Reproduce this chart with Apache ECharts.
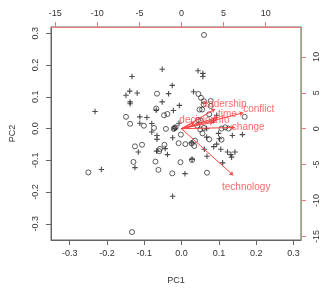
<!DOCTYPE html>
<html>
<head>
<meta charset="utf-8">
<script src="https://cdn.jsdelivr.net/npm/echarts@6/dist/echarts.min.js"></script>
<style>
  html, body { margin: 0; padding: 0; background: #fff; }
  #main { width: 326px; height: 290px; }
</style>
</head>
<body>
<div id="main"></div>
<script>
// scores drawn as "o"
var circlePts = [
    [0.060, 0.295], [-0.066, 0.110],
    [0.045, 0.109], [0.052, 0.097], [0.060, 0.086], [0.078, 0.087],
    [0.059, 0.076], [0.078, 0.071], [0.048, 0.060], [0.055, 0.060],
    [0.074, 0.045], [0.169, 0.037], [0.044, 0.027], [0.051, 0.025],
    [0.042, 0.009], [0.060, 0.002], [0.050, -0.003],
    [0.107, 0.000], [0.117, 0.004], [0.126, 0.000],
    [-0.047, 0.042], [-0.038, 0.046], [-0.068, 0.063],
    [-0.149, 0.037], [-0.138, 0.015], [-0.101, 0.009], [-0.074, 0.002],
    [-0.042, -0.001], [-0.019, 0.002], [-0.016, 0.004], [-0.021, -0.001],
    [-0.002, -0.019], [0.056, -0.015], [0.036, -0.038], [0.074, -0.034], [0.107, -0.035],
    [-0.125, -0.056], [-0.106, -0.051], [-0.046, -0.051], [-0.058, -0.064], [-0.060, -0.071],
    [-0.008, -0.046], [0.010, -0.049], [0.027, -0.047], [0.034, -0.055],
    [-0.129, -0.105], [-0.070, -0.104], [-0.003, -0.106], [0.028, -0.099],
    [-0.250, -0.138], [-0.062, -0.130], [-0.025, -0.141], [0.068, -0.139],
    [-0.133, -0.326]
];
// scores drawn as "+"
var plusPts = [
    [-0.052, 0.187], [0.044, 0.182], [0.057, 0.174], [0.057, 0.164],
    [-0.133, 0.164], [-0.025, 0.136], [0.032, 0.116],
    [-0.139, 0.118], [-0.149, 0.105], [-0.119, 0.112], [-0.035, 0.110],
    [-0.138, 0.084], [-0.138, 0.078], [-0.052, 0.084], [-0.006, 0.073],
    [-0.232, 0.054], [-0.068, 0.058], [-0.022, 0.057],
    [-0.112, 0.037], [-0.093, 0.035], [-0.112, 0.017], [-0.080, 0.016],
    [0.094, 0.042], [0.085, 0.025], [-0.007, 0.017], [0.067, 0.000], [-0.018, 0.001],
    [-0.080, -0.011], [-0.066, -0.022], [-0.066, -0.034], [-0.024, -0.029],
    [-0.044, -0.063], [-0.067, -0.071], [-0.116, -0.074], [-0.038, -0.082],
    [-0.125, -0.123], [-0.215, -0.129], [-0.024, -0.213],
    [0.009, -0.142], [0.068, -0.087], [0.110, -0.108], [0.061, -0.065],
    [0.086, -0.057], [0.094, -0.049], [0.105, -0.065],
    [0.123, -0.074], [0.132, -0.082], [0.143, -0.074], [0.134, -0.090],
    [0.163, -0.019], [0.099, -0.015], [0.101, -0.032], [0.136, -0.022],
    [0.067, -0.027], [0.028, -0.097], [0.026, -0.045]
];
// variable loadings (top / right axes)
var varNames = ['leadership', 'conflict', 'time', 'decision', 'info', 'change', 'technology'];
var loadX = [4.99, 9.18, 5.46, 1.93, 4.75, 7.93, 7.69];
var loadY = [3.42, 2.76, 2.01, 1.13, 1.13, 0.21, -8.12];

var pcTicks = [-0.3, -0.2, -0.1, 0.0, 0.1, 0.2, 0.3];
var topTicks = [-15, -10, -5, 0, 5, 10];
var rightTicks = [-15, -10, -5, 0, 5, 10];

var font = 'Liberation Sans';
var dom = document.getElementById('main');
var myChart = echarts.init(dom);

var arrowData = varNames.map(function (n, i) {
    return { coords: [[0, 0], [loadX[i] * 0.8, loadY[i] * 0.8]] };
});
var labelData = varNames.map(function (n, i) {
    return { name: n, value: [loadX[i], loadY[i]] };
});

function sideAxis(pos, min, max, ticks, red, dec) {
    var vertical = (pos === 'left' || pos === 'right');
    return {
        type: 'value',
        position: pos,
        min: min,
        max: max,
        splitLine: { show: false },
        axisLine: { show: true, onZero: false, lineStyle: { color: red ? '#e77' : '#666', width: 1 } },
        axisTick: { show: true, length: 5, customValues: ticks, lineStyle: { color: red ? '#e77' : '#666' } },
        axisLabel: {
            customValues: ticks,
            color: '#333',
            fontSize: 9,
            fontFamily: font,
            margin: vertical ? 11 : 9,
            rotate: vertical ? 90 : 0,
            formatter: function (v) { return dec ? v.toFixed(1) : String(v); }
        }
    };
}

var xBottom = sideAxis('bottom', -0.35, 0.32, pcTicks, false, true);
xBottom.name = 'PC1';
xBottom.nameLocation = 'middle';
xBottom.nameGap = 36;
xBottom.nameTextStyle = { color: '#333', fontSize: 9, fontFamily: font };
var yLeft = sideAxis('left', -0.351, 0.32, pcTicks, false, true);
yLeft.name = 'PC2';
yLeft.nameLocation = 'middle';
yLeft.nameGap = 34;
yLeft.nameRotate = 90;
yLeft.nameTextStyle = { color: '#333', fontSize: 9, fontFamily: font };

option = {
    animation: false,
    backgroundColor: '#fff',
    grid: {
        left: 48, right: 25, top: 27, bottom: 38,
        show: true,
        borderColor: '#666',
        borderWidth: 1
    },
    xAxis: [xBottom, sideAxis('top', -15.5, 14.2, topTicks, true, false)],
    yAxis: [yLeft, sideAxis('right', -15.5, 14.16, rightTicks, true, false)],
    series: [{
            name: 'o',
            type: 'scatter',
            data: circlePts,
            symbol: 'circle',
            symbolSize: 5,
            itemStyle: { color: 'rgba(0,0,0,0)', borderColor: '#222', borderWidth: 0.9 },
            z: 3
        },
        {
            name: '+',
            type: 'scatter',
            data: plusPts,
            symbol: 'path://M2,0H3V2H5V3H3V5H2V3H0V2H2Z',
            symbolSize: 5.5,
            itemStyle: { color: '#222' },
            z: 3
        },
        {
            name: 'arrows',
            type: 'lines',
            coordinateSystem: 'cartesian2d',
            xAxisIndex: 1,
            yAxisIndex: 1,
            symbol: ['none', 'arrow'],
            symbolSize: 4,
            lineStyle: { color: '#f44', width: 1, opacity: 1 },
            data: arrowData,
            z: 4
        },
        {
            name: 'vars',
            type: 'scatter',
            xAxisIndex: 1,
            yAxisIndex: 1,
            symbolSize: 0,
            data: labelData,
            label: {
                show: true,
                position: 'inside',
                formatter: '{b}',
                color: '#f44',
                fontSize: 10,
                fontFamily: font
            },
            z: 5
        }
    ]
};

myChart.setOption(option);
</script>
</body>
</html>
